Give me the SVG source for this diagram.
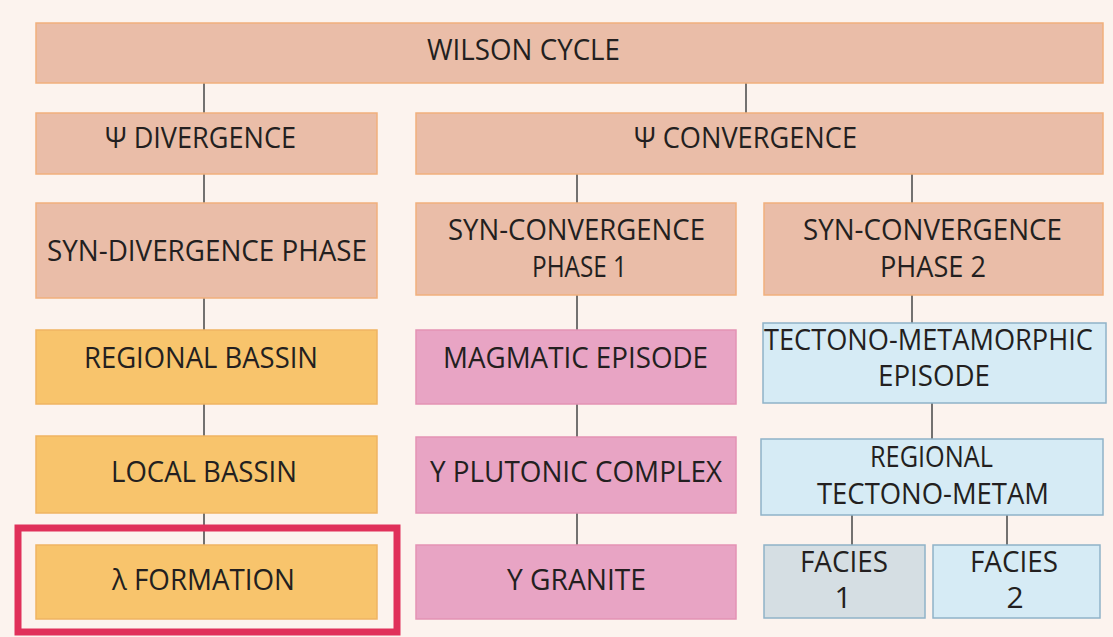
<svg xmlns="http://www.w3.org/2000/svg" width="1113" height="637" viewBox="0 0 1113 637">
<style>
.bg{fill:#fcf3ee}
.sal{fill:#eabda8;stroke:#f1b07c;stroke-width:1.5}
.org{fill:#f8c46c;stroke:#efb462;stroke-width:1.5}
.mag{fill:#e8a4c4;stroke:#e393b4;stroke-width:1.5}
.blu{fill:#d6ebf5;stroke:#8fb3c8;stroke-width:1.5}
.gry{fill:#d5dee3;stroke:#8fb3c8;stroke-width:1.5}
text{font-family:"Open Sans","DejaVu Sans",sans-serif;font-size:30px;fill:#231f20;text-anchor:start}
.c line{stroke:#505050;stroke-width:1.6}
</style>
<rect class="bg" x="0" y="0" width="1113" height="637"/>
<g class="c" id="connectors">
<line x1="204" y1="83" x2="204" y2="113"/>
<line x1="746" y1="83" x2="746" y2="113"/>
<line x1="204" y1="174" x2="204" y2="203"/>
<line x1="577" y1="174" x2="577" y2="203"/>
<line x1="912" y1="174" x2="912" y2="203"/>
<line x1="204" y1="298" x2="204" y2="330"/>
<line x1="204" y1="404" x2="204" y2="436"/>
<line x1="204" y1="513" x2="204" y2="545"/>
<line x1="577" y1="295" x2="577" y2="330"/>
<line x1="577" y1="404" x2="577" y2="437"/>
<line x1="577" y1="513" x2="577" y2="545"/>
<line x1="912" y1="295" x2="912" y2="323"/>
<line x1="932" y1="403" x2="932" y2="439"/>
<line x1="852" y1="515" x2="852" y2="545"/>
<line x1="1007" y1="515" x2="1007" y2="545"/>
</g>
<g id="wilson"><rect class="sal" x="36" y="23" width="1067" height="60"/><text x="427" y="60" textLength="193" lengthAdjust="spacingAndGlyphs">WILSON CYCLE</text></g>
<g id="divergence"><rect class="sal" x="36" y="113" width="341" height="61"/><text x="105" y="148" textLength="191" lengthAdjust="spacingAndGlyphs">Ψ DIVERGENCE</text></g>
<g id="convergence"><rect class="sal" x="416" y="113" width="687" height="61"/><text x="634" y="148" textLength="223" lengthAdjust="spacingAndGlyphs">Ψ CONVERGENCE</text></g>
<g id="syndiv"><rect class="sal" x="36" y="203" width="341" height="95"/><text x="47" y="261" textLength="320" lengthAdjust="spacingAndGlyphs">SYN-DIVERGENCE PHASE</text></g>
<g id="synconv1"><rect class="sal" x="416" y="203" width="320" height="92"/><text x="448" y="240" textLength="257" lengthAdjust="spacingAndGlyphs">SYN-CONVERGENCE</text><text x="532" y="277" textLength="95" lengthAdjust="spacingAndGlyphs">PHASE 1</text></g>
<g id="synconv2"><rect class="sal" x="764" y="203" width="339" height="92"/><text x="803" y="240" textLength="259" lengthAdjust="spacingAndGlyphs">SYN-CONVERGENCE</text><text x="880" y="277" textLength="106" lengthAdjust="spacingAndGlyphs">PHASE 2</text></g>
<g id="regbassin"><rect class="org" x="36" y="330" width="341" height="74"/><text x="84" y="368" textLength="234" lengthAdjust="spacingAndGlyphs">REGIONAL BASSIN</text></g>
<g id="locbassin"><rect class="org" x="36" y="436" width="341" height="77"/><text x="111" y="482" textLength="186" lengthAdjust="spacingAndGlyphs">LOCAL BASSIN</text></g>
<g id="formation"><rect class="org" x="36" y="545" width="341" height="74"/><text x="112" y="590" textLength="183" lengthAdjust="spacingAndGlyphs">λ FORMATION</text></g>
<g id="magmatic"><rect class="mag" x="416" y="330" width="320" height="74"/><text x="443" y="368" textLength="265" lengthAdjust="spacingAndGlyphs">MAGMATIC EPISODE</text></g>
<g id="plutonic"><rect class="mag" x="416" y="437" width="320" height="76"/><text x="430" y="482" textLength="292" lengthAdjust="spacingAndGlyphs">Y PLUTONIC COMPLEX</text></g>
<g id="granite"><rect class="mag" x="416" y="545" width="320" height="74"/><text x="507" y="590" textLength="139" lengthAdjust="spacingAndGlyphs">Y GRANITE</text></g>
<g id="tectono"><rect class="blu" x="763" y="323" width="343" height="80"/><text x="764" y="350" textLength="329" lengthAdjust="spacingAndGlyphs">TECTONO-METAMORPHIC</text><text x="878" y="386" textLength="112" lengthAdjust="spacingAndGlyphs">EPISODE</text></g>
<g id="regtectono"><rect class="blu" x="761" y="439" width="342" height="76"/><text x="870" y="467" textLength="123" lengthAdjust="spacingAndGlyphs">REGIONAL</text><text x="817" y="504" textLength="232" lengthAdjust="spacingAndGlyphs">TECTONO-METAM</text></g>
<g id="facies1"><rect class="gry" x="764" y="545" width="161" height="73"/><text x="800" y="572" textLength="88" lengthAdjust="spacingAndGlyphs">FACIES</text><text x="843" y="608" style="text-anchor:middle">1</text></g>
<g id="facies2"><rect class="blu" x="933" y="545" width="167" height="73"/><text x="970" y="572" textLength="88" lengthAdjust="spacingAndGlyphs">FACIES</text><text x="1015" y="608" style="text-anchor:middle">2</text></g>
<g id="highlight"><rect x="18" y="528" width="379" height="104" fill="none" stroke="#e0305a" stroke-width="7"/></g>
</svg>
